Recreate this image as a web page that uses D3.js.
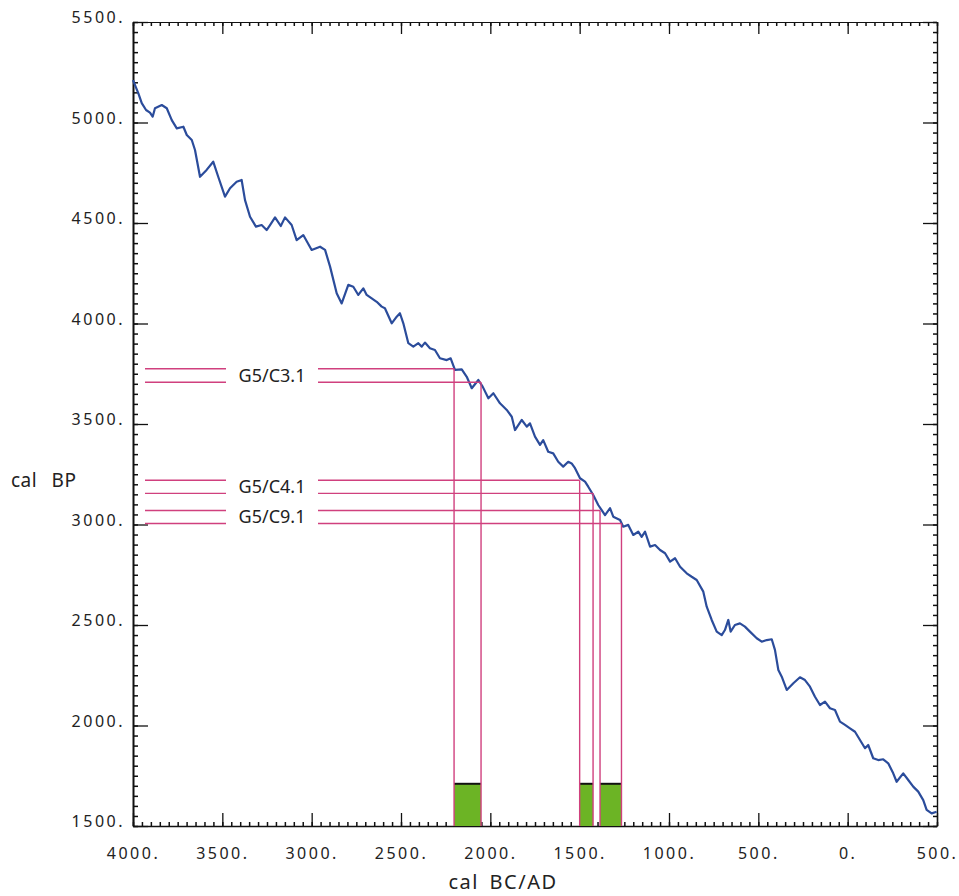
<!DOCTYPE html>
<html lang="en">
<head>
	<meta charset="UTF-8">
	<title>cal BP / cal BC-AD</title>
	<script src="https://cdn.jsdelivr.net/npm/d3@7/dist/d3.min.js"></script>
	<style>
		body { margin: 0; background: #fff; }
		text { font-family: "Noto Sans", "Open Sans", sans-serif; fill: #222; }
	</style>
</head>
<body>
	<div id="chart"></div>
<script>
// calibration curve (year: BC negative, AD positive)
var curveYear = [-4000,-3970,-3951,-3927,-3905,-3890,-3877,-3839,-3811,-3783,-3755,-3718,-3699,-3671,-3653,-3625,
	-3588,-3551,-3523,-3485,-3457,-3420,-3392,-3373,-3345,-3312,-3280,-3252,-3233,-3205,-3173,-3149,-3112,-3084,
	-3047,-3000,-2953,-2925,-2897,-2860,-2832,-2795,-2767,-2739,-2711,-2692,-2664,-2636,-2608,-2590,-2552,-2524,
	-2506,-2487,-2459,-2431,-2403,-2384,-2366,-2338,-2310,-2282,-2244,-2222,-2198,-2160,-2132,-2104,-2067,-2043,
	-2011,-1983,-1946,-1908,-1880,-1862,-1824,-1796,-1778,-1750,-1722,-1704,-1676,-1648,-1620,-1592,-1564,-1545,
	-1526,-1498,-1470,-1452,-1424,-1396,-1358,-1330,-1312,-1274,-1256,-1228,-1200,-1172,-1153,-1134,-1106,-1078,
	-1050,-1022,-994,-966,-938,-901,-873,-845,-808,-789,-761,-733,-705,-687,-668,-655,-631,-603,-575,-547,-509,
	-481,-453,-425,-407,-388,-369,-341,-304,-267,-239,-211,-183,-155,-127,-99,-71,-43,-15,13,41,69,97,115,143,171,
	199,227,255,274,311,339,367,395,423,442,470,498];
var curveBP = [5211,5145,5096,5062,5049,5029,5071,5087,5071,5012,4971,4979,4938,4913,4863,4730,
	4764,4805,4730,4631,4673,4705,4714,4614,4531,4482,4490,4465,4490,4528,4485,4528,4490,4415,
	4440,4366,4382,4366,4283,4150,4100,4192,4183,4142,4175,4142,4125,4108,4084,4076,4001,4034,
	4051,4001,3902,3885,3902,3885,3905,3877,3868,3827,3818,3827,3769,3772,3735,3678,3719,3686,
	3628,3653,3603,3570,3536,3470,3520,3487,3503,3437,3396,3420,3362,3354,3312,3288,3312,3304,
	3280,3230,3213,3188,3147,3097,3047,3081,3039,3022,2989,2998,2948,2964,2939,2964,2890,2898,
	2873,2857,2815,2832,2790,2757,2740,2724,2666,2591,2525,2467,2450,2475,2525,2467,2500,2508,2492,2467,2434,
	2417,2425,2429,2376,2276,2243,2177,2210,2240,2226,2193,2143,2102,2119,2086,2077,2019,2003,1986,1969,1928,1887,1903,1837,1828,
	1832,1812,1762,1720,1762,1729,1696,1671,1629,1580,1563,1571];

// samples and their calibrated ranges
var sampleNames = ["G5/C3.1", "G5/C4.1", "G5/C9.1"];
var sampleBPHigh = [3775, 3220, 3070];
var sampleBPLow = [3708, 3155, 3005];
var rangeFrom = [-2203, -1500, -1386];
var rangeTo = [-2052, -1425, -1266];
var boxTopBP = 1710;

// axis ticks
var xTicks = [-4000, -3500, -3000, -2500, -2000, -1500, -1000, -500, 0, 500];
var yTicks = [1500, 2000, 2500, 3000, 3500, 4000, 4500, 5000, 5500];

window.onload = function(){
	var W = 959, H = 896;
	var left = 133, right = 937, top = 22, bottom = 826;

	var svg = d3.select("#chart").append("svg")
		.attr("width", W)
		.attr("height", H);

	var xScale = d3.scaleLinear().domain([-4000, 500]).range([left, right]);
	var yScale = d3.scaleLinear().domain([1500, 5500]).range([bottom, top]);

	var minorX = d3.range(-4000, 501, 50);
	var minorY = d3.range(1500, 5501, 50);

	function styleAxis(g, w){
		g.select(".domain").attr("stroke", "#111").attr("stroke-width", w);
		g.selectAll(".tick line").attr("stroke", "#111").attr("stroke-width", 1.3);
	}
	function minorStyle(g){
		g.select(".domain").remove();
		g.selectAll("line").attr("stroke", "#111").attr("stroke-width", 1.5);
	}

	// minor ticks, all four sides, pointing inward
	svg.append("g").attr("transform", "translate(0," + bottom + ")")
		.call(d3.axisBottom(xScale).tickValues(minorX).tickSize(-4).tickFormat("")).call(minorStyle);
	svg.append("g").attr("transform", "translate(0," + top + ")")
		.call(d3.axisTop(xScale).tickValues(minorX).tickSize(-4).tickFormat("")).call(minorStyle);
	svg.append("g").attr("transform", "translate(" + left + ",0)")
		.call(d3.axisLeft(yScale).tickValues(minorY).tickSize(-5).tickFormat("")).call(minorStyle);
	svg.append("g").attr("transform", "translate(" + right + ",0)")
		.call(d3.axisRight(yScale).tickValues(minorY).tickSize(-4).tickFormat("")).call(minorStyle);

	// major axes
	var xAxis = d3.axisBottom(xScale).tickValues(xTicks).tickSizeInner(-13).tickSizeOuter(0).tickPadding(22)
		.tickFormat(function(d){ return Math.abs(d) + "."; });
	var gx = svg.append("g").attr("transform", "translate(0," + bottom + ")").call(xAxis);
	styleAxis(gx, 1.4);
	gx.selectAll("text").attr("font-size", 16).attr("letter-spacing", "2.5px").attr("fill", "#222");

	var gxTop = svg.append("g").attr("transform", "translate(0," + top + ")")
		.call(d3.axisTop(xScale).tickValues(xTicks).tickSizeInner(-12).tickSizeOuter(0).tickFormat(""));
	styleAxis(gxTop, 1.2);

	var yAxis = d3.axisLeft(yScale).tickValues(yTicks).tickSizeInner(-15).tickSizeOuter(0).tickPadding(8)
		.tickFormat(function(d){ return d + "."; });
	var gy = svg.append("g").attr("transform", "translate(" + left + ",0)").call(yAxis);
	styleAxis(gy, 2);
	gy.selectAll("text").attr("font-size", 16).attr("letter-spacing", "2.5px").attr("dy", "0.05em").attr("fill", "#222");

	var gyRight = svg.append("g").attr("transform", "translate(" + right + ",0)")
		.call(d3.axisRight(yScale).tickValues(yTicks).tickSizeInner(-14).tickSizeOuter(0).tickFormat(""));
	styleAxis(gyRight, 1.4);

	// axis titles
	svg.append("text")
		.attr("x", 11).attr("y", 487)
		.attr("font-size", 19).attr("word-spacing", "9px").attr("letter-spacing", "0.5px")
		.text("cal BP");
	svg.append("text")
		.attr("x", 503).attr("y", 889)
		.attr("text-anchor", "middle")
		.attr("font-size", 20).attr("letter-spacing", "1.5px").attr("word-spacing", "4px")
		.text("cal BC/AD");

	// calibration curve
	var pts = curveYear.map(function(d, i){ return [d, curveBP[i]]; });
	var line = d3.line()
		.x(function(d){ return xScale(d[0]); })
		.y(function(d){ return yScale(d[1]); });
	svg.append("path")
		.datum(pts)
		.attr("d", line)
		.attr("fill", "none")
		.attr("stroke", "#2b4c9b")
		.attr("stroke-width", 2.2)
		.attr("stroke-linejoin", "round");

	// green boxes of the calibrated ranges
	var pink = "#d0407e";
	var samples = sampleNames.map(function(n, i){
		return {name: n, hi: sampleBPHigh[i], lo: sampleBPLow[i], from: rangeFrom[i], to: rangeTo[i]};
	});

	svg.selectAll("rect.range").data(samples).enter().append("rect")
		.attr("class", "range")
		.attr("x", function(d){ return xScale(d.from); })
		.attr("y", yScale(boxTopBP))
		.attr("width", function(d){ return xScale(d.to) - xScale(d.from); })
		.attr("height", yScale(1500) - yScale(boxTopBP))
		.attr("fill", "#6cb425");
	svg.selectAll("line.boxtop").data(samples).enter().append("line")
		.attr("class", "boxtop")
		.attr("x1", function(d){ return xScale(d.from); })
		.attr("x2", function(d){ return xScale(d.to); })
		.attr("y1", yScale(boxTopBP)).attr("y2", yScale(boxTopBP))
		.attr("stroke", "#111").attr("stroke-width", 2);

	// label leaders and drop lines
	var segL0 = 145, segL1 = 226, labelX = 272, segR0 = 318;
	samples.forEach(function(d){
		[[d.hi, d.from], [d.lo, d.to]].forEach(function(p){
			var yy = yScale(p[0]), xx = xScale(p[1]);
			svg.append("line").attr("x1", segL0).attr("x2", segL1).attr("y1", yy).attr("y2", yy)
				.attr("stroke", pink).attr("stroke-width", 1.4);
			svg.append("line").attr("x1", segR0).attr("x2", xx).attr("y1", yy).attr("y2", yy)
				.attr("stroke", pink).attr("stroke-width", 1.4);
			svg.append("line").attr("x1", xx).attr("x2", xx).attr("y1", yy).attr("y2", yScale(1500))
				.attr("stroke", pink).attr("stroke-width", 1.4);
		});
		svg.append("text")
			.attr("x", labelX)
			.attr("y", (yScale(d.hi) + yScale(d.lo)) / 2)
			.attr("dy", "0.36em")
			.attr("text-anchor", "middle")
			.attr("font-size", 18)
			.text(d.name);
	});
};
</script>
</body>
</html>
